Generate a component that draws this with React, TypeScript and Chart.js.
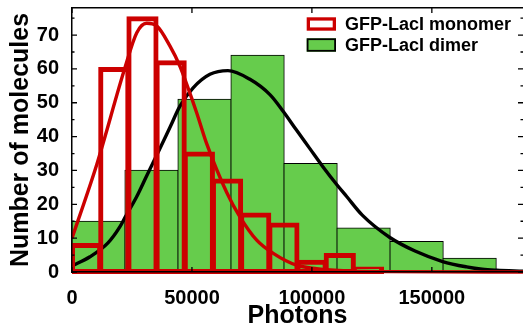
import React, { useEffect, useRef } from "react";
import { Chart, registerables } from "chart.js";

Chart.register(...registerables);

// ---- data ----
const MONOMER_LABEL = "GFP-LacI monomer";
const DIMER_LABEL = "GFP-LacI dimer";

const DIMER_BIN_CENTERS = [11050, 33150, 55250, 77350, 99450, 121550, 143650, 165750];
const DIMER_COUNTS = [15, 30, 51, 64, 32, 13, 9, 4];

const MONOMER_BIN_CENTERS = [5875, 17625, 29375, 41125, 52875, 64625, 76375, 88125, 99875, 111625, 123375];
const MONOMER_COUNTS = [8, 60, 75, 62, 35, 27, 17, 14, 3, 5, 1];

const DIMER_FIT_X = [0, 7500, 15000, 20000, 22000, 27000, 31000, 36000, 41000, 45000, 50500, 57500, 65000, 74000, 82500, 88000, 93500, 99000, 104500, 110500, 114500, 121000, 132500, 143000, 154500, 164500, 171000, 177000, 188000];
const DIMER_FIT_Y = [1.8, 4.5, 8.6, 13.4, 16, 22.3, 28.2, 35.5, 43, 49, 54.4, 58.4, 59.5, 57, 52.4, 47.5, 42, 36.6, 31.2, 25.7, 22.3, 16.8, 10.2, 6.2, 3.1, 1.5, 0.8, 0.5, 0.2];

const MONOMER_FIT_X = [0, 10300, 22100, 27000, 31100, 35300, 40800, 45000, 47800, 52000, 56100, 64500, 70000, 77000, 83900, 93600, 102000, 115000, 130000, 188000];
const MONOMER_FIT_Y = [10, 31.7, 60.4, 70.7, 73.5, 72.7, 66.8, 60.8, 55.5, 47, 38, 23.5, 16.3, 9.4, 5.5, 2.0, 1.0, 0.3, 0.1, 0];

const X_TICKS = [0, 50000, 100000, 150000];
const Y_TICKS = [0, 10, 20, 30, 40, 50, 60, 70];
const Y_MINOR_TICKS = [5, 15, 25, 35, 45, 55, 65, 75];

const X_MIN = 0;
const X_MAX = 188000;
const Y_MIN = 0;
const Y_MAX = 78;

const X_TITLE = "Photons";
const Y_TITLE = "Number of molecules";

// ---- styles ----
const GREEN = "#66CC4C";
const RED = "#CC0000";
const FONT = "'Liberation Sans', Arial, Helvetica, sans-serif";

const zip = (xs: number[], ys: number[]) => xs.map((x, i) => ({ x, y: ys[i] }));

export default function App() {
  const ref = useRef<HTMLCanvasElement>(null);

  useEffect(() => {
    document.body.style.margin = "0";
    const canvas = ref.current;
    if (!canvas) return;

    Chart.defaults.font.family = FONT;
    Chart.defaults.color = "#000";

    const innerTicks = {
      id: "innerTicks",
      afterDatasetsDraw(chart: any) {
        const { ctx, chartArea: a, scales } = chart;
        const xs = scales.x;
        const ys = scales.y;
        ctx.save();
        ctx.strokeStyle = "#000";
        ctx.lineWidth = 1.3;
        ctx.beginPath();
        for (const v of Y_TICKS) {
          const py = ys.getPixelForValue(v);
          ctx.moveTo(a.left, py);
          ctx.lineTo(a.left + 5, py);
          ctx.moveTo(a.right, py);
          ctx.lineTo(a.right - 5, py);
        }
        for (const v of Y_MINOR_TICKS) {
          const py = ys.getPixelForValue(v);
          ctx.moveTo(a.left, py);
          ctx.lineTo(a.left + 2.5, py);
          ctx.moveTo(a.right, py);
          ctx.lineTo(a.right - 2.5, py);
        }
        for (const v of X_TICKS) {
          const px = xs.getPixelForValue(v);
          ctx.moveTo(px, a.top);
          ctx.lineTo(px, a.top + 5);
          ctx.moveTo(px, a.bottom);
          ctx.lineTo(px, a.bottom - 5);
        }
        ctx.stroke();
        ctx.restore();
      },
    };

    const insideLegend = {
      id: "insideLegend",
      afterDraw(chart: any) {
        const { ctx, chartArea: a } = chart;
        const items = [
          { label: MONOMER_LABEL, fill: "#fff", stroke: RED, lw: 3.3 },
          { label: DIMER_LABEL, fill: GREEN, stroke: "#000", lw: 1.8 },
        ];
        ctx.save();
        ctx.font = `bold 18px ${FONT}`;
        ctx.textBaseline = "alphabetic";
        ctx.textAlign = "left";
        items.forEach((it, i) => {
          const bx = a.left + 234.7;
          const by = a.top + 9.3 + i * 21;
          const bw = 29.3;
          const bh = 13.4;
          ctx.fillStyle = it.fill;
          ctx.fillRect(bx, by, bw, bh);
          ctx.strokeStyle = it.stroke;
          ctx.lineWidth = it.lw;
          ctx.strokeRect(bx + it.lw / 2, by + it.lw / 2, bw - it.lw, bh - it.lw);
          ctx.fillStyle = "#000";
          ctx.fillText(it.label, a.left + 273, by + 12.8);
        });
        ctx.restore();
      },
    };

    const borderOpts = { display: true, color: "#000", width: 1.5, z: 1 };

    const chart = new Chart(canvas, {
      type: "bar",
      data: {
        datasets: [
          {
            type: "bar",
            label: DIMER_LABEL,
            data: zip(DIMER_BIN_CENTERS, DIMER_COUNTS),
            xAxisID: "x",
            yAxisID: "y",
            backgroundColor: GREEN,
            borderColor: "#000",
            borderWidth: 1,
            borderSkipped: false,
            inflateAmount: 0.6,
            barPercentage: 1,
            categoryPercentage: 1,
            grouped: false,
            order: 4,
            clip: { left: 0, top: 5, right: 0, bottom: 5 },
          } as any,
          {
            type: "line",
            label: "dimer fit",
            data: zip(DIMER_FIT_X, DIMER_FIT_Y),
            xAxisID: "x",
            yAxisID: "y",
            borderColor: "#000",
            borderWidth: 3.4,
            pointRadius: 0,
            fill: false,
            cubicInterpolationMode: "monotone",
            order: 3,
            clip: { left: 0, top: 5, right: 0, bottom: 5 },
          } as any,
          {
            type: "bar",
            label: MONOMER_LABEL,
            data: zip(MONOMER_BIN_CENTERS, MONOMER_COUNTS),
            xAxisID: "xTop",
            yAxisID: "y",
            backgroundColor: "rgba(0,0,0,0)",
            borderColor: RED,
            borderWidth: 1,
            borderSkipped: false,
            inflateAmount: 2,
            barPercentage: 1,
            categoryPercentage: 1,
            grouped: false,
            order: 2,
            clip: { left: 0, top: 5, right: 0, bottom: 5 },
          } as any,
          {
            type: "line",
            label: "monomer fit",
            data: zip(MONOMER_FIT_X, MONOMER_FIT_Y),
            xAxisID: "x",
            yAxisID: "y",
            borderColor: RED,
            borderWidth: 3.4,
            pointRadius: 0,
            fill: false,
            cubicInterpolationMode: "monotone",
            order: 1,
            clip: { left: 0, top: 5, right: 0, bottom: 5 },
          } as any,
        ],
      },
      options: {
        responsive: false,
        animation: false,
        devicePixelRatio: 1,
        layout: { padding: 0 },
        plugins: {
          legend: { display: false },
          tooltip: { enabled: false },
        },
        scales: {
          x: {
            type: "linear",
            position: "bottom",
            offset: false,
            min: X_MIN,
            max: X_MAX,
            grid: { display: false, offset: false },
            border: borderOpts,
            ticks: {
              stepSize: 50000,
              includeBounds: false,
              autoSkip: false,
              maxRotation: 0,
              padding: 6,
              color: "#000",
              font: { size: 20, weight: "bold" },
              callback: (v: any) => String(v),
            },
            afterBuildTicks: (s: any) => {
              s.ticks = X_TICKS.map((value) => ({ value }));
            },
            title: {
              display: true,
              text: X_TITLE,
              color: "#000",
              font: { size: 25, weight: "bold", lineHeight: 1 },
              padding: { top: 0, bottom: 1 },
            },
            afterFit: (s: any) => {
              s.height = 58;
              s.paddingLeft = 0;
              s.paddingRight = 0;
            },
          },
          xTop: {
            type: "linear",
            position: "top",
            offset: false,
            min: X_MIN,
            max: X_MAX,
            grid: { display: false, offset: false },
            border: borderOpts,
            ticks: { display: false, stepSize: 50000, includeBounds: false },
            afterFit: (s: any) => {
              s.height = 8;
              s.paddingLeft = 0;
              s.paddingRight = 0;
            },
          },
          y: {
            type: "linear",
            position: "left",
            min: Y_MIN,
            max: Y_MAX,
            grid: { display: false },
            border: borderOpts,
            ticks: {
              stepSize: 10,
              includeBounds: false,
              padding: 5,
              color: "#000",
              font: { size: 20, weight: "bold" },
            },
            afterBuildTicks: (s: any) => {
              s.ticks = Y_TICKS.map((value) => ({ value }));
            },
            title: {
              display: true,
              text: Y_TITLE,
              color: "#000",
              font: { size: 25, weight: "bold", lineHeight: 1 },
              padding: { top: 9, bottom: 0 },
            },
            afterFit: (s: any) => {
              s.width = 72;
              s.paddingTop = 0;
              s.paddingBottom = 0;
            },
          },
          yRight: {
            type: "linear",
            position: "right",
            min: Y_MIN,
            max: Y_MAX,
            grid: { display: false },
            border: { display: false },
            ticks: { display: false },
            afterFit: (s: any) => {
              s.width = 0;
              s.paddingTop = 0;
              s.paddingBottom = 0;
            },
          },
        },
      } as any,
      plugins: [innerTicks, insideLegend],
    });

    return () => chart.destroy();
  }, []);

  return (
    <div style={{ width: 523, height: 330, background: "#fff" }}>
      <canvas ref={ref} width={523} height={330} style={{ display: "block" }} />
    </div>
  );
}
